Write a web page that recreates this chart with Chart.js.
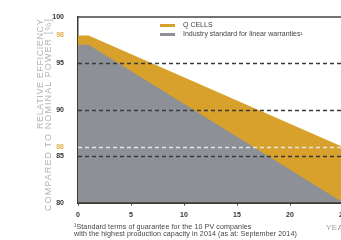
<!DOCTYPE html>
<html>
<head>
<meta charset="utf-8">
<script src="https://cdn.jsdelivr.net/npm/chart.js@4"></script>
<style>
  body { margin: 0; background: #fff; font-family: "Liberation Sans", Arial, sans-serif; }
  #wrap { position: relative; width: 341px; height: 240px; overflow: hidden; }
  #box { position: absolute; left: 0; top: 0; width: 362px; height: 240px; }
  .leg { position: absolute; font-size: 7px; line-height: 8px; color: #444; white-space: nowrap; }
  .sw { position: absolute; width: 15px; height: 3px; }
  .ytitle { position: absolute; font-size: 9px; line-height: 9px; color: #b3b3b3; white-space: nowrap;
            transform: rotate(-90deg); transform-origin: left top; }
  #note { position: absolute; left: 74px; top: 224px; font-size: 7.1px; line-height: 7px; color: #444; white-space: nowrap; letter-spacing: 0.1px; }
  #years { position: absolute; left: 326px; top: 223px; font-size: 8px; color: #999; letter-spacing: 0.5px; }
</style>
</head>
<body>
<div id="wrap">
  <div id="box"><canvas id="chart"></canvas></div>
  <div class="ytitle" style="left:36px;top:129px;letter-spacing:0.6px">RELATIVE EFFICIENCY</div>
  <div class="ytitle" style="left:44px;top:211px;letter-spacing:1.1px">COMPARED TO NOMINAL POWER [%]</div>
  <div class="sw" style="left:160px;top:24px;background:#d8a12b"></div>
  <div class="leg" style="left:183px;top:21px">Q CELLS</div>
  <div class="sw" style="left:160px;top:33px;background:#8d9096"></div>
  <div class="leg" style="left:183px;top:30px">Industry standard for linear warranties¹</div>
  <div id="note">¹Standard terms of guarantee for the 10 PV companies<br>with the highest production capacity in 2014 (as at: September 2014)</div>
  <div id="years">YEARS</div>
</div>
<script>
const years = [0, 1, 25];
const qcells = [98, 98, 86];
const industry = [97, 97, 80];
const yTicks = [80, 85, 86, 90, 95, 98, 100];
const xTicks = [0, 5, 10, 15, 20, 25];
const darkLines = [85, 90, 95];
const lightLines = [86];

const refLines = {
  id: "refLines",
  afterDatasetsDraw(chart) {
    const { ctx, chartArea, scales } = chart;
    ctx.save();
    ctx.lineWidth = 1.3;
    ctx.setLineDash([4, 3]);
    darkLines.forEach(v => {
      const y = Math.round(scales.y.getPixelForValue(v)) + 0.5;
      ctx.strokeStyle = "#3a3a3a";
      ctx.beginPath(); ctx.moveTo(chartArea.left, y); ctx.lineTo(chartArea.right, y); ctx.stroke();
    });
    lightLines.forEach(v => {
      const y = Math.round(scales.y.getPixelForValue(v)) + 0.5;
      ctx.strokeStyle = "#e4e4e4";
      ctx.beginPath(); ctx.moveTo(chartArea.left, y); ctx.lineTo(chartArea.right, y); ctx.stroke();
    });
    ctx.setLineDash([]);
    ctx.strokeStyle = "#444";
    ctx.lineWidth = 1.5;
    const top = scales.y.getPixelForValue(100);
    ctx.beginPath(); ctx.moveTo(chartArea.left, top); ctx.lineTo(chart.width, top); ctx.stroke();
    ctx.restore();
  }
};

new Chart(document.getElementById("chart"), {
  type: "line",
  data: {
    datasets: [
      {
        label: "Q CELLS",
        data: years.map((x, i) => ({ x: x, y: qcells[i] })),
        backgroundColor: "#d8a12b",
        borderWidth: 0,
        pointRadius: 0,
        fill: "start",
        order: 2
      },
      {
        label: "Industry standard for linear warranties",
        data: years.map((x, i) => ({ x: x, y: industry[i] })),
        backgroundColor: "#8d9096",
        borderWidth: 0,
        pointRadius: 0,
        fill: "start",
        order: 1
      }
    ]
  },
  options: {
    responsive: true,
    maintainAspectRatio: false,
    animation: false,
    layout: { padding: { top: 17, right: 19, bottom: 16, left: 52 } },
    plugins: { legend: { display: false }, tooltip: { enabled: false } },
    scales: {
      x: {
        type: "linear",
        min: 0,
        max: 25,
        afterBuildTicks: s => { s.ticks = xTicks.map(v => ({ value: v })); },
        grid: { display: true, drawOnChartArea: false, drawTicks: true, tickLength: 3, color: "#444", lineWidth: 1 },
        border: { display: true, color: "#3a3a3a", width: 2 },
        ticks: { color: "#333", font: { family: "Liberation Sans", size: 7, weight: "bold" }, padding: 5, maxRotation: 0 }
      },
      y: {
        min: 80,
        max: 100,
        afterBuildTicks: s => { s.ticks = yTicks.map(v => ({ value: v })); },
        afterFit: s => { s.width = 26; },
        grid: { display: false },
        border: { display: true, color: "#3a3a3a", width: 1.5 },
        ticks: {
          color: c => (c.tick.value === 98 || c.tick.value === 86) ? "#e0b050" : "#333",
          font: { family: "Liberation Sans", size: 7, weight: "bold" },
          padding: 6
        }
      }
    }
  },
  plugins: [refLines]
});
</script>
</body>
</html>
